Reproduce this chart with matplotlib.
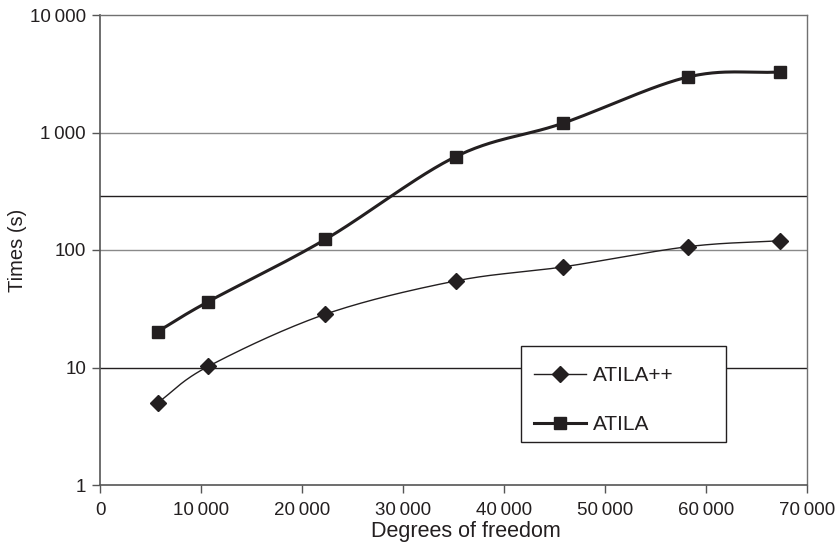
import matplotlib
matplotlib.use('Agg')
import numpy as np
import matplotlib.pyplot as plt
from matplotlib.patches import Rectangle
from matplotlib.ticker import FixedLocator, FixedFormatter

plt.rcParams['font.family'] = ['Liberation Sans', 'DejaVu Sans']

dof = [5700, 10700, 22300, 35200, 45800, 58200, 67300]
atila_pp = [5.0, 10.2, 28.4, 54.5, 71.7, 106.7, 120]
atila = [20.2, 36.3, 123, 622, 1197, 2966, 3273]

x_ticks = [0, 10000, 20000, 30000, 40000, 50000, 60000, 70000]
x_labels = ['0', '10\u2009000', '20\u2009000', '30\u2009000', '40\u2009000',
            '50\u2009000', '60\u2009000', '70\u2009000']
y_ticks = [1, 10, 100, 1000, 10000]
y_labels = ['1', '10', '100', '1\u2009000', '10\u2009000']
extra_line = 288

INK = '#231f20'
W, H = 840, 545
L, R, T, B = 100, 807, 15, 485


def smooth(x, y, n=30):
    # catmull-rom spline in (x, log y), close to Excel's smoothed lines
    px = np.array(x, dtype=float) / 10000.0
    py = np.log10(np.array(y, dtype=float))
    px = np.concatenate([[2 * px[0] - px[1]], px, [2 * px[-1] - px[-2]]])
    py = np.concatenate([[2 * py[0] - py[1]], py, [2 * py[-1] - py[-2]]])
    xs, ys = [], []
    t = np.linspace(0, 1, n)
    for i in range(1, len(px) - 2):
        for arr, out in ((px, xs), (py, ys)):
            p0, p1, p2, p3 = arr[i - 1:i + 3]
            out.extend(0.5 * ((2 * p1) + (-p0 + p2) * t
                              + (2 * p0 - 5 * p1 + 4 * p2 - p3) * t ** 2
                              + (-p0 + 3 * p1 - 3 * p2 + p3) * t ** 3))
    return np.array(xs) * 10000.0, 10 ** np.array(ys)


def axfrac(px, py):
    # pixel position of the reference -> axes fraction
    return (px - L) / (R - L), (B - py) / (B - T)


fig = plt.figure(figsize=(8.4, 5.45), dpi=100)
ax = fig.add_axes([L / W, 1 - B / H, (R - L) / W, (B - T) / H])

ax.set_yscale('log')
ax.set_xlim(0, 70000)
ax.set_ylim(1, 10000)

for v, c in [(10, INK), (100, '#8a8a8a'), (extra_line, INK), (1000, '#8a8a8a')]:
    ax.axhline(v, color=c, lw=1.0, zorder=1)

sx, sy = smooth(dof, atila_pp)
ax.plot(sx, sy, color=INK, lw=1.0, zorder=3)
ax.plot(dof, atila_pp, ls='none', marker='D', ms=8, color=INK, zorder=4)
sx, sy = smooth(dof, atila)
ax.plot(sx, sy, color=INK, lw=2.2, zorder=3)
ax.plot(dof, atila, ls='none', marker='s', ms=8.5, color=INK, zorder=4)

# legend box (Excel style, wide right padding)
x0, y0 = axfrac(521, 442)
x1, y1 = axfrac(726, 346)
ax.add_patch(Rectangle((x0, y0), x1 - x0, y1 - y0, transform=ax.transAxes,
                       facecolor='white', edgecolor=INK, lw=1.0, zorder=5))

h1, = ax.plot([], [], color=INK, lw=1.0, marker='D', ms=8)
h2, = ax.plot([], [], color=INK, lw=2.2, marker='s', ms=8.5)
leg = ax.legend([h1, h2], ['ATILA++', 'ATILA'], loc='upper left',
                bbox_to_anchor=axfrac(534, 366), fontsize=15, frameon=False,
                borderpad=0, labelspacing=1.45, handlelength=2.5,
                handletextpad=0.35, borderaxespad=0)
leg.set_zorder(6)
for txt in leg.get_texts():
    txt.set_color(INK)

ax.xaxis.set_major_locator(FixedLocator(x_ticks))
ax.xaxis.set_major_formatter(FixedFormatter(x_labels))
ax.yaxis.set_major_locator(FixedLocator(y_ticks))
ax.yaxis.set_major_formatter(FixedFormatter(y_labels))
ax.yaxis.set_minor_locator(FixedLocator([]))
ax.tick_params(axis='both', direction='out', length=6, width=1,
               color='#555555', labelsize=13.5, labelcolor=INK, pad=4)
ax.tick_params(axis='x', pad=6)

for side in ['left', 'bottom']:
    ax.spines[side].set_color('#555555')
    ax.spines[side].set_linewidth(1.2)
for side in ['top', 'right']:
    ax.spines[side].set_color('#707070')
    ax.spines[side].set_linewidth(1.0)

ax.set_xlabel('Degrees of freedom', fontsize=15.5, color=INK, labelpad=2,
              x=(466 - L) / (R - L))
ax.set_ylabel('Times (s)', fontsize=14.5, color=INK, labelpad=2)

fig.savefig('out.png', dpi=100)
